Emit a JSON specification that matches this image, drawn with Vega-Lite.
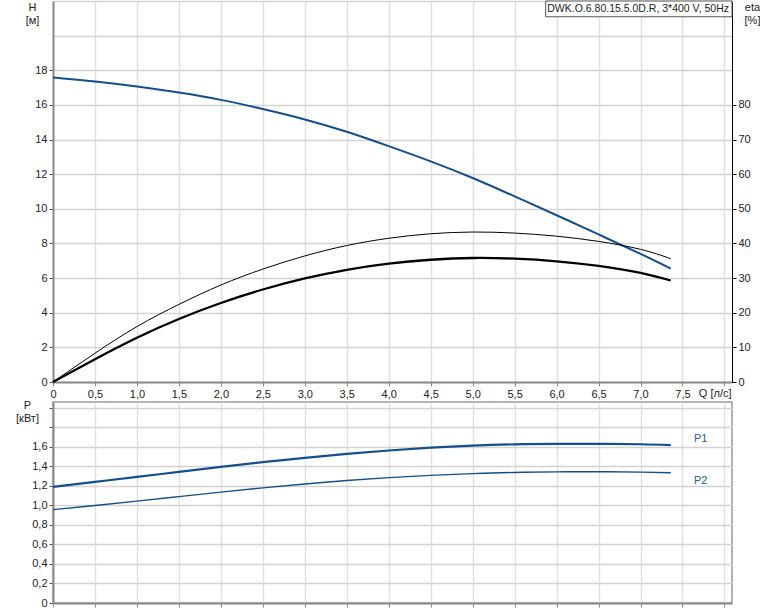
{
  "$schema": "https://vega.github.io/schema/vega-lite/v6.json",
  "padding": {"left": 14, "top": 0, "right": 0, "bottom": 0},
  "background": "white",
  "bounds": "flush",
  "spacing": 20,
  "datasets": {
    "H": [
      {"Q": 0, "H": 17.58}, {"Q": 0.5, "H": 17.35}, {"Q": 1.0, "H": 17.06}, {"Q": 1.5, "H": 16.71},
      {"Q": 2.0, "H": 16.29}, {"Q": 2.5, "H": 15.76}, {"Q": 3.0, "H": 15.16}, {"Q": 3.5, "H": 14.45},
      {"Q": 4.0, "H": 13.62}, {"Q": 4.5, "H": 12.74}, {"Q": 5.0, "H": 11.78}, {"Q": 5.5, "H": 10.72},
      {"Q": 6.0, "H": 9.63}, {"Q": 6.5, "H": 8.52}, {"Q": 7.0, "H": 7.4}, {"Q": 7.36, "H": 6.55}
    ],
    "eta": [
      {"Q": 0, "eta": 0, "s": "thin"}, {"Q": 0.5, "eta": 8.3, "s": "thin"}, {"Q": 1.0, "eta": 16.0, "s": "thin"},
      {"Q": 1.5, "eta": 22.4, "s": "thin"}, {"Q": 2.0, "eta": 28.0, "s": "thin"}, {"Q": 2.5, "eta": 32.6, "s": "thin"},
      {"Q": 3.0, "eta": 36.4, "s": "thin"}, {"Q": 3.5, "eta": 39.4, "s": "thin"}, {"Q": 4.0, "eta": 41.5, "s": "thin"},
      {"Q": 4.5, "eta": 42.8, "s": "thin"}, {"Q": 5.0, "eta": 43.3, "s": "thin"}, {"Q": 5.5, "eta": 43.0, "s": "thin"},
      {"Q": 6.0, "eta": 42.1, "s": "thin"}, {"Q": 6.5, "eta": 40.6, "s": "thin"}, {"Q": 7.0, "eta": 38.3, "s": "thin"},
      {"Q": 7.36, "eta": 35.6, "s": "thin"},
      {"Q": 0, "eta": 0, "s": "thick"}, {"Q": 0.5, "eta": 6.6, "s": "thick"}, {"Q": 1.0, "eta": 12.8, "s": "thick"},
      {"Q": 1.5, "eta": 18.2, "s": "thick"}, {"Q": 2.0, "eta": 22.8, "s": "thick"}, {"Q": 2.5, "eta": 26.7, "s": "thick"},
      {"Q": 3.0, "eta": 29.9, "s": "thick"}, {"Q": 3.5, "eta": 32.4, "s": "thick"}, {"Q": 4.0, "eta": 34.2, "s": "thick"},
      {"Q": 4.5, "eta": 35.3, "s": "thick"}, {"Q": 5.0, "eta": 35.8, "s": "thick"}, {"Q": 5.5, "eta": 35.6, "s": "thick"},
      {"Q": 6.0, "eta": 34.85, "s": "thick"}, {"Q": 6.5, "eta": 33.5, "s": "thick"}, {"Q": 7.0, "eta": 31.5, "s": "thick"},
      {"Q": 7.36, "eta": 29.3, "s": "thick"}
    ],
    "P": [
      {"Q": 0, "P": 1.19, "s": "P1"}, {"Q": 0.5, "P": 1.241, "s": "P1"}, {"Q": 1.0, "P": 1.292, "s": "P1"},
      {"Q": 1.5, "P": 1.344, "s": "P1"}, {"Q": 2.0, "P": 1.395, "s": "P1"}, {"Q": 2.5, "P": 1.443, "s": "P1"},
      {"Q": 3.0, "P": 1.487, "s": "P1"}, {"Q": 3.5, "P": 1.528, "s": "P1"}, {"Q": 4.0, "P": 1.563, "s": "P1"},
      {"Q": 4.5, "P": 1.592, "s": "P1"}, {"Q": 5.0, "P": 1.613, "s": "P1"}, {"Q": 5.5, "P": 1.626, "s": "P1"},
      {"Q": 6.0, "P": 1.631, "s": "P1"}, {"Q": 6.5, "P": 1.631, "s": "P1"}, {"Q": 7.0, "P": 1.627, "s": "P1"},
      {"Q": 7.36, "P": 1.619, "s": "P1"},
      {"Q": 0, "P": 0.957, "s": "P2"}, {"Q": 0.5, "P": 0.999, "s": "P2"}, {"Q": 1.0, "P": 1.044, "s": "P2"},
      {"Q": 1.5, "P": 1.09, "s": "P2"}, {"Q": 2.0, "P": 1.136, "s": "P2"}, {"Q": 2.5, "P": 1.18, "s": "P2"},
      {"Q": 3.0, "P": 1.22, "s": "P2"}, {"Q": 3.5, "P": 1.255, "s": "P2"}, {"Q": 4.0, "P": 1.285, "s": "P2"},
      {"Q": 4.5, "P": 1.308, "s": "P2"}, {"Q": 5.0, "P": 1.326, "s": "P2"}, {"Q": 5.5, "P": 1.338, "s": "P2"},
      {"Q": 6.0, "P": 1.344, "s": "P2"}, {"Q": 6.5, "P": 1.345, "s": "P2"}, {"Q": 7.0, "P": 1.341, "s": "P2"},
      {"Q": 7.36, "P": 1.335, "s": "P2"}
    ]
  },
  "config": {
    "view": {"stroke": null},
    "axis": {
      "labelFont": "Liberation Sans", "labelFontSize": 11, "labelColor": "#222",
      "titleFont": "Liberation Sans", "titleFontSize": 11, "titleFontWeight": "normal", "titleColor": "#222",
      "tickColor": "#555", "tickSize": 4, "labelPadding": 2, "labelOverlap": false, "labelFlush": false,
      "grid": true, "gridOpacity": 1, "gridWidth": 1.5
    },
    "axisX": {"gridColor": "#e0e0e0"},
    "axisY": {"gridColor": "#d2d2d2"},
    "text": {"font": "Liberation Sans", "fontWeight": "normal"}
  },
  "vconcat": [
    {
      "width": 679,
      "height": 381,
      "layer": [
        {
          "layer": [
            {
              "data": {"name": "H"},
              "mark": {"type": "line", "color": "#134f8c", "strokeWidth": 2, "interpolate": "natural"},
              "encoding": {
                "x": {
                  "field": "Q", "type": "quantitative",
                  "scale": {"domain": [0, 8.09], "nice": false, "zero": true},
                  "axis": {
                    "values": [0, 0.5, 1, 1.5, 2, 2.5, 3, 3.5, 4, 4.5, 5, 5.5, 6, 6.5, 7, 7.5, 8],
                    "grid": true, "gridColor": "#e0e0e0", "labelOverlap": false, "labelFlush": false,
                    "labelExpr": "datum.value == 0 ? '0' : (datum.value > 7.6 ? '' : replace(format(datum.value, '.1f'), '.', ','))",
                    "domainColor": "#8a8a8a", "domainWidth": 2, "tickColor": "#8a8a8a",
                    "title": "Q [л/с]", "titleX": 678, "titleY": 11, "titleAlign": "right", "titleBaseline": "middle"
                  }
                },
                "y": {
                  "field": "H", "type": "quantitative",
                  "scale": {"domain": [0, 22], "nice": false},
                  "axis": {
                    "values": [0, 2, 4, 6, 8, 10, 12, 14, 16, 18, 20, 22],
                    "grid": true, "gridColor": "#d2d2d2", "labelOverlap": false, "labelFlush": false,
                    "labelExpr": "datum.value > 19 ? '' : format(datum.value, 'd')",
                    "labelFontSize": {"condition": {"test": "datum.value > 19", "value": 0.01}, "value": 11},
                    "tickOpacity": {"condition": {"test": "datum.value > 19", "value": 0}, "value": 1},
                    "domainColor": "#8a8a8a", "domainWidth": 2,
                    "title": ["H", "[м]"], "titleAngle": 0, "titleX": -21, "titleY": 0,
                    "titleAlign": "center", "titleBaseline": "top", "titleLineHeight": 13
                  }
                }
              }
            },
            {
              "data": {"values": [{}]},
              "mark": {"type": "rect", "fill": "white", "stroke": "#555", "strokeWidth": 1},
              "encoding": {
                "x": {
                  "datum": 5.87, "type": "quantitative",
                  "axis": {
                    "values": [0, 0.5, 1, 1.5, 2, 2.5, 3, 3.5, 4, 4.5, 5, 5.5, 6, 6.5, 7, 7.5, 8],
                    "grid": true, "gridColor": "#e0e0e0", "labelOverlap": false, "labelFlush": false,
                    "labelExpr": "datum.value == 0 ? '0' : (datum.value > 7.6 ? '' : replace(format(datum.value, '.1f'), '.', ','))",
                    "domainColor": "#8a8a8a", "domainWidth": 2, "tickColor": "#8a8a8a",
                    "title": "Q [л/с]", "titleX": 678, "titleY": 11, "titleAlign": "right", "titleBaseline": "middle"
                  }
                },
                "x2": {"datum": 8.09},
                "y": {
                  "datum": 22, "type": "quantitative",
                  "axis": {
                    "values": [0, 2, 4, 6, 8, 10, 12, 14, 16, 18, 20, 22],
                    "grid": true, "gridColor": "#d2d2d2", "labelOverlap": false, "labelFlush": false,
                    "labelExpr": "datum.value > 19 ? '' : format(datum.value, 'd')",
                    "labelFontSize": {"condition": {"test": "datum.value > 19", "value": 0.01}, "value": 11},
                    "tickOpacity": {"condition": {"test": "datum.value > 19", "value": 0}, "value": 1},
                    "domainColor": "#8a8a8a", "domainWidth": 2,
                    "title": ["H", "[м]"], "titleAngle": 0, "titleX": -21, "titleY": 0,
                    "titleAlign": "center", "titleBaseline": "top", "titleLineHeight": 13
                  }
                },
                "y2": {"datum": 21.09}
              }
            },
            {
              "data": {"values": [{}]},
              "mark": {"type": "text", "align": "right", "baseline": "middle", "dx": -3, "fontSize": 10.5, "fontWeight": "normal", "color": "#222"},
              "encoding": {
                "x": {
                  "datum": 8.09, "type": "quantitative",
                  "axis": {
                    "values": [0, 0.5, 1, 1.5, 2, 2.5, 3, 3.5, 4, 4.5, 5, 5.5, 6, 6.5, 7, 7.5, 8],
                    "grid": true, "gridColor": "#e0e0e0", "labelOverlap": false, "labelFlush": false,
                    "labelExpr": "datum.value == 0 ? '0' : (datum.value > 7.6 ? '' : replace(format(datum.value, '.1f'), '.', ','))",
                    "domainColor": "#8a8a8a", "domainWidth": 2, "tickColor": "#8a8a8a",
                    "title": "Q [л/с]", "titleX": 678, "titleY": 11, "titleAlign": "right", "titleBaseline": "middle"
                  }
                },
                "y": {
                  "datum": 21.56, "type": "quantitative",
                  "axis": {
                    "values": [0, 2, 4, 6, 8, 10, 12, 14, 16, 18, 20, 22],
                    "grid": true, "gridColor": "#d2d2d2", "labelOverlap": false, "labelFlush": false,
                    "labelExpr": "datum.value > 19 ? '' : format(datum.value, 'd')",
                    "labelFontSize": {"condition": {"test": "datum.value > 19", "value": 0.01}, "value": 11},
                    "tickOpacity": {"condition": {"test": "datum.value > 19", "value": 0}, "value": 1},
                    "domainColor": "#8a8a8a", "domainWidth": 2,
                    "title": ["H", "[м]"], "titleAngle": 0, "titleX": -21, "titleY": 0,
                    "titleAlign": "center", "titleBaseline": "top", "titleLineHeight": 13
                  }
                },
                "text": {"value": "DWK.O.6.80.15.5.0D.R, 3*400 V, 50Hz"}
              }
            }
          ]
        },
        {
          "data": {"name": "eta"},
          "layer": [
            {
              "transform": [{"filter": "datum.s == 'thin'"}],
              "mark": {"type": "line", "color": "#000", "strokeWidth": 1, "interpolate": "natural"},
              "encoding": {
                "x": {
                  "field": "Q", "type": "quantitative", "scale": {"domain": [0, 8.09], "nice": false},
                  "axis": {
                    "values": [0, 0.5, 1, 1.5, 2, 2.5, 3, 3.5, 4, 4.5, 5, 5.5, 6, 6.5, 7, 7.5, 8],
                    "grid": true, "gridColor": "#e0e0e0", "labelOverlap": false, "labelFlush": false,
                    "labelExpr": "datum.value == 0 ? '0' : (datum.value > 7.6 ? '' : replace(format(datum.value, '.1f'), '.', ','))",
                    "domainColor": "#8a8a8a", "domainWidth": 2, "tickColor": "#8a8a8a",
                    "title": "Q [л/с]", "titleX": 678, "titleY": 11, "titleAlign": "right", "titleBaseline": "middle"
                  }
                },
                "y": {
                  "field": "eta", "type": "quantitative",
                  "scale": {"domain": [0, 110], "nice": false},
                  "axis": {
                    "orient": "right",
                    "values": [0, 10, 20, 30, 40, 50, 60, 70, 80],
                    "grid": false, "labelOverlap": false, "labelFlush": false,
                    "domainColor": "#000", "domainWidth": 1, "tickColor": "#000",
                    "title": ["eta", "[%]"], "titleAngle": 0, "titleX": 20, "titleY": 0,
                    "titleAlign": "center", "titleBaseline": "top", "titleLineHeight": 13
                  }
                }
              }
            },
            {
              "transform": [{"filter": "datum.s == 'thick'"}],
              "mark": {"type": "line", "color": "#000", "strokeWidth": 2.3, "interpolate": "natural"},
              "encoding": {
                "x": {
                  "field": "Q", "type": "quantitative",
                  "axis": {
                    "values": [0, 0.5, 1, 1.5, 2, 2.5, 3, 3.5, 4, 4.5, 5, 5.5, 6, 6.5, 7, 7.5, 8],
                    "grid": true, "gridColor": "#e0e0e0", "labelOverlap": false, "labelFlush": false,
                    "labelExpr": "datum.value == 0 ? '0' : (datum.value > 7.6 ? '' : replace(format(datum.value, '.1f'), '.', ','))",
                    "domainColor": "#8a8a8a", "domainWidth": 2, "tickColor": "#8a8a8a",
                    "title": "Q [л/с]", "titleX": 678, "titleY": 11, "titleAlign": "right", "titleBaseline": "middle"
                  }
                },
                "y": {
                  "field": "eta", "type": "quantitative",
                  "axis": {
                    "orient": "right",
                    "values": [0, 10, 20, 30, 40, 50, 60, 70, 80],
                    "grid": false, "labelOverlap": false, "labelFlush": false,
                    "domainColor": "#000", "domainWidth": 1, "tickColor": "#000",
                    "title": ["eta", "[%]"], "titleAngle": 0, "titleX": 20, "titleY": 0,
                    "titleAlign": "center", "titleBaseline": "top", "titleLineHeight": 13
                  }
                }
              }
            }
          ]
        }
      ],
      "resolve": {"scale": {"y": "independent"}}
    },
    {
      "width": 679,
      "height": 201,
      "view": {"stroke": "#9a9a9a", "strokeWidth": 1.5},
      "data": {"name": "P"},
      "encoding": {
        "x": {
          "field": "Q", "type": "quantitative",
          "scale": {"domain": [0, 8.09], "nice": false},
          "axis": {
            "values": [0, 0.5, 1, 1.5, 2, 2.5, 3, 3.5, 4, 4.5, 5, 5.5, 6, 6.5, 7, 7.5, 8],
            "grid": true, "gridColor": "#e0e0e0", "labels": false,
            "domainColor": "#8a8a8a", "domainWidth": 2, "tickColor": "#8a8a8a", "title": null
          }
        },
        "y": {
          "field": "P", "type": "quantitative",
          "scale": {"domain": [0, 2.06], "nice": false},
          "axis": {
            "values": [0, 0.2, 0.4, 0.6, 0.8, 1.0, 1.2, 1.4, 1.6, 1.8, 2.0],
            "grid": true, "gridColor": "#d2d2d2", "labelOverlap": false, "labelFlush": false,
            "labelExpr": "datum.value == 0 ? '0' : (datum.value > 1.7 ? '' : replace(format(datum.value, '.1f'), '.', ','))",
            "domainColor": "#8a8a8a", "domainWidth": 2,
            "title": ["P", "[кВт]"], "titleAngle": 0, "titleX": -26, "titleY": -3,
            "titleAlign": "center", "titleBaseline": "top", "titleLineHeight": 13
          }
        }
      },
      "layer": [
        {
          "transform": [{"filter": "datum.s == 'P1'"}],
          "mark": {"type": "line", "color": "#134f8c", "strokeWidth": 2.2, "interpolate": "natural"}
        },
        {
          "transform": [{"filter": "datum.s == 'P2'"}],
          "mark": {"type": "line", "color": "#134f8c", "strokeWidth": 1.4, "interpolate": "natural"}
        },
        {
          "transform": [{"filter": "datum.s == 'P1' && datum.Q == 7.36"}],
          "mark": {"type": "text", "fontSize": 11, "fontWeight": "normal", "color": "#2a5c9a", "align": "center", "baseline": "middle", "dx": 30, "dy": -6},
          "encoding": {"text": {"field": "s"}}
        },
        {
          "transform": [{"filter": "datum.s == 'P2' && datum.Q == 7.36"}],
          "mark": {"type": "text", "fontSize": 11, "fontWeight": "normal", "color": "#2a5c9a", "align": "center", "baseline": "middle", "dx": 30, "dy": 8},
          "encoding": {"text": {"field": "s"}}
        }
      ]
    }
  ]
}
